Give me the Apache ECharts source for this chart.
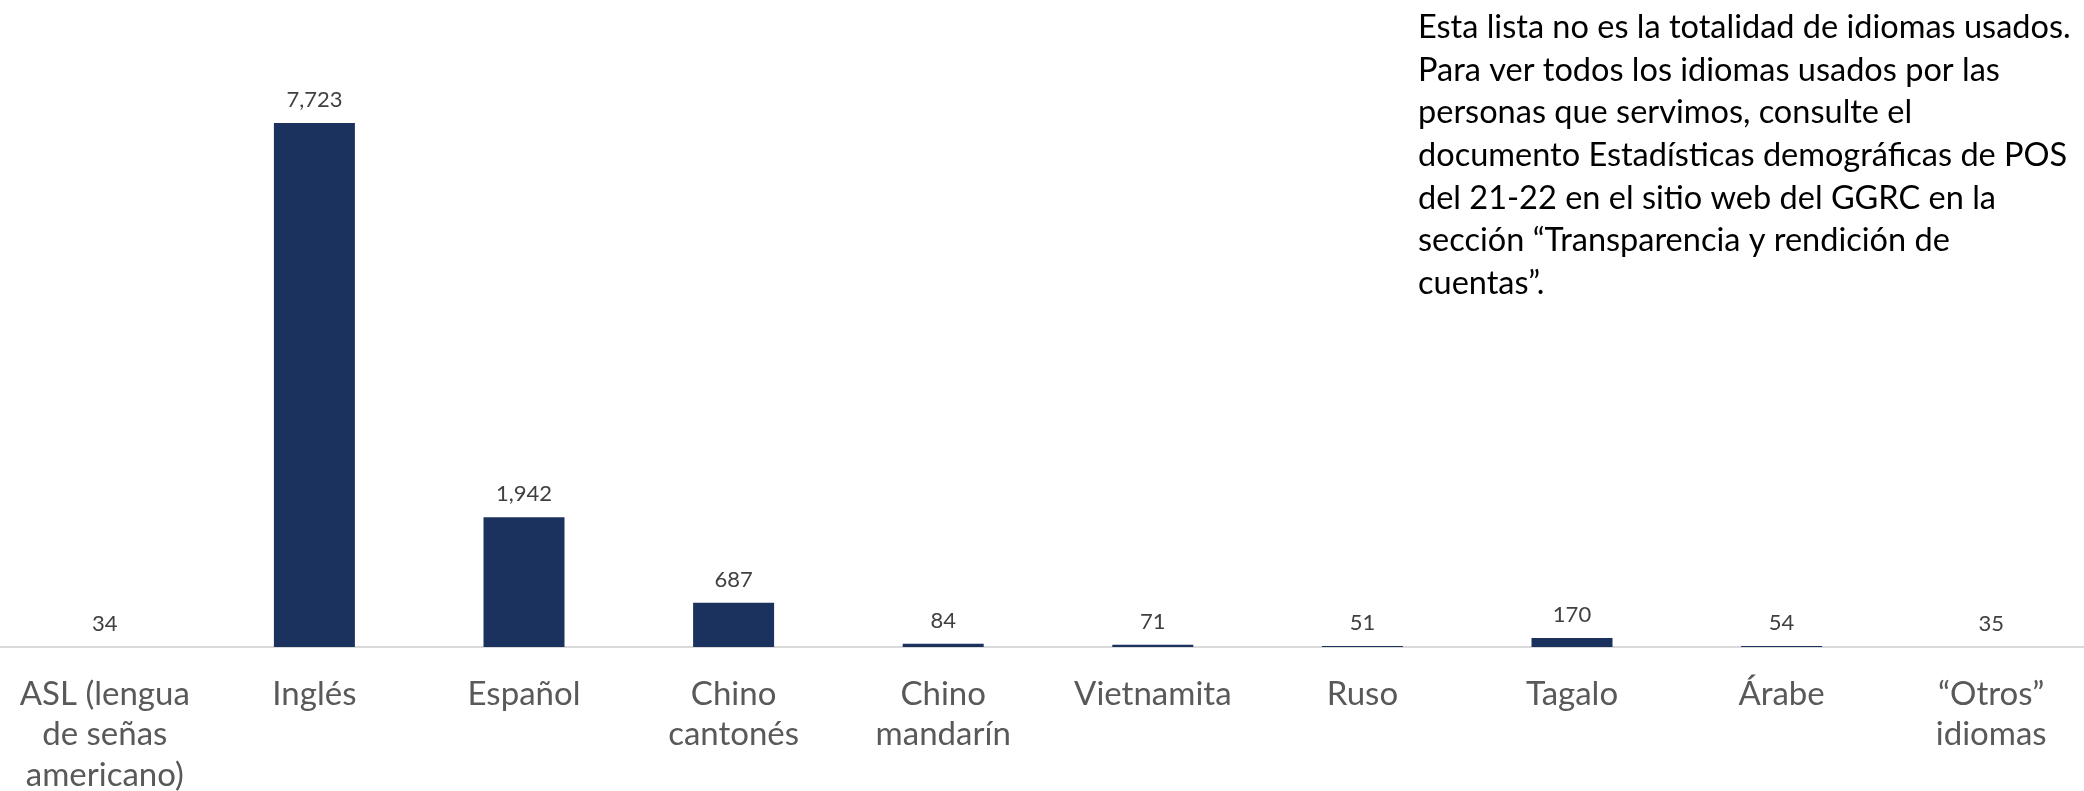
<!DOCTYPE html>
<html>
<head>
<meta charset="utf-8">
<script src="https://cdn.jsdelivr.net/npm/echarts@6/dist/echarts.min.js"></script>
<style>
html,body{margin:0;padding:0;background:#fff;}
#chart{width:2084px;height:791px;}
</style>
</head>
<body>
<div id="chart"></div>
<script>
const categories = ['ASL (lengua\nde señas\namericano)', 'Inglés', 'Español', 'Chino\ncantonés', 'Chino\nmandarín', 'Vietnamita', 'Ruso', 'Tagalo', 'Árabe', '“Otros”\nidiomas'];
const values = [34, 7723, 1942, 687, 84, 71, 51, 170, 54, 35];
const noteLines = [
  'Esta lista no es la totalidad de idiomas usados.',
  'Para ver todos los idiomas usados por las',
  'personas que servimos, consulte el',
  'documento Estadísticas demográficas de POS',
  'del 21-22 en el sitio web del GGRC en la',
  'sección “Transparencia y rendición de',
  'cuentas”.'
];

const FONT = 'Lato, "Open Sans", sans-serif';
const chart = echarts.init(document.getElementById('chart'));
chart.setOption({
  animation: false,
  backgroundColor: '#ffffff',
  title: {
    text: noteLines.join('\n'),
    left: 1418,
    top: 6,
    padding: 0,
    textStyle: {
      fontFamily: FONT,
      fontSize: 32.5,
      fontWeight: 'normal',
      color: '#000000',
      lineHeight: 42.7
    }
  },
  grid: {left: 0, width: 2096, top: 36, bottom: 144, containLabel: false, outerBoundsMode: 'none'},
  xAxis: {
    type: 'category',
    data: categories,
    axisLine: {show: true, lineStyle: {color: '#d9d9d9', width: 2}},
    axisTick: {show: false},
    axisLabel: {
      interval: 0,
      margin: 27,
      fontFamily: FONT,
      fontSize: 33,
      color: '#595959',
      lineHeight: 40.5,
      align: 'center'
    }
  },
  yAxis: {type: 'value', min: 38, max: 9000, show: false},
  series: [
    {
      type: 'bar',
      data: values,
      barWidth: 81,
      clip: true,
      silent: true,
      itemStyle: {color: '#1b325e'},
      z: 2
    },
    {
      type: 'bar',
      data: values,
      barWidth: 81,
      barGap: '-100%',
      clip: false,
      silent: true,
      itemStyle: {color: 'rgba(0,0,0,0)'},
      label: {
        show: true,
        position: 'top',
        distance: 12,
        fontFamily: FONT,
        fontSize: 22,
        color: '#404040',
        formatter: p => p.value.toLocaleString('en-US')
      },
      z: 3
    }
  ]
});
</script>
</body>
</html>
